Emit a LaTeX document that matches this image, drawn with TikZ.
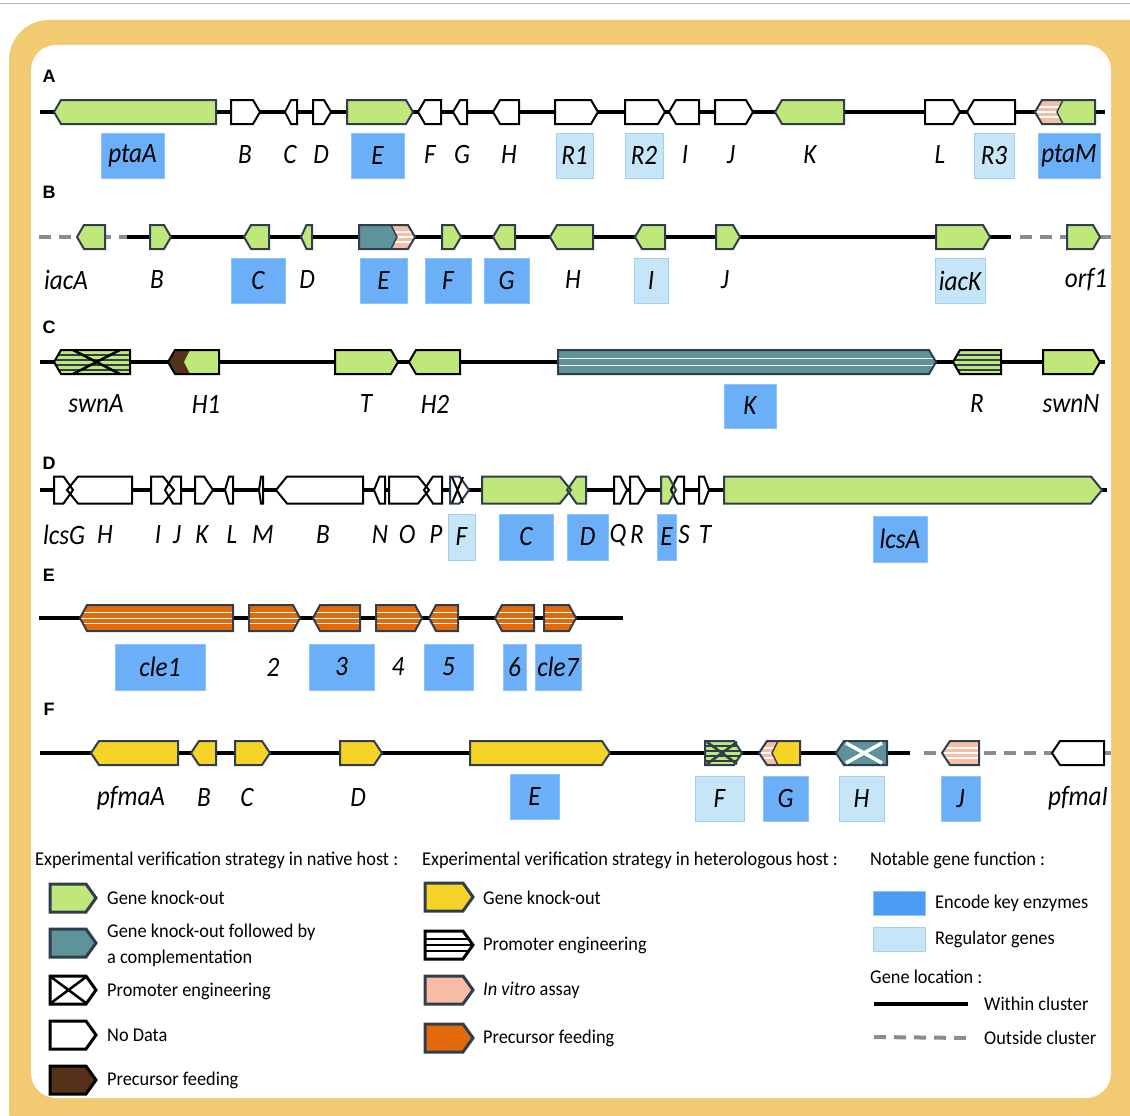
\documentclass[tikz,border=0pt]{standalone}
\usepackage{fontspec}
\setmainfont{Carlito}
\newfontfamily\genefont{Carlito}[FakeStretch=0.9]
\newfontfamily\legfont{Carlito}[FakeStretch=0.94]
\newfontfamily\panelfont{Liberation Sans}
\definecolor{kogreen}{HTML}{C0E77A}
\definecolor{koyellow}{HTML}{F6D327}
\definecolor{feedorange}{HTML}{E4690A}
\definecolor{compteal}{HTML}{5E9399}
\definecolor{feedbrown}{HTML}{55311A}
\definecolor{vitro}{HTML}{F7BEA5}
\definecolor{slate}{HTML}{2E3E4F}
\definecolor{keyblue}{HTML}{6BAFF9}
\definecolor{keyedge}{HTML}{8EC2F8}
\definecolor{keydark}{HTML}{4A9CF5}
\definecolor{regblue}{HTML}{C6E6F8}
\definecolor{regedge}{HTML}{9FD0F5}
\definecolor{framecol}{HTML}{F1CA72}
\definecolor{outgray}{HTML}{8C8C8C}
\def\gh{12}\def\tp{7}
\newcommand\genr[4][]{\path[#1] (#2,#4-\gh) -- ({#3-min(\tp,(#3-#2)/2)},#4-\gh) -- (#3,#4) -- ({#3-min(\tp,(#3-#2)/2)},#4+\gh) -- (#2,#4+\gh) -- cycle;}
\newcommand\genl[4][]{\path[#1] (#3,#4-\gh) -- ({#2+min(\tp,(#3-#2)/2)},#4-\gh) -- (#2,#4) -- ({#2+min(\tp,(#3-#2)/2)},#4+\gh) -- (#3,#4+\gh) -- cycle;}
\tikzset{
  stripes/.style n args={3}{path picture={\foreach \o in {#3} \draw[#1,line width=#2] ([yshift=\o pt]path picture bounding box.west) -- ([yshift=\o pt]path picture bounding box.east);}},
  backbone/.style={line width=4,black},
  outside/.style={line width=4,outgray,dash pattern=on 12 off 8},
  ko/.style={fill=kogreen,draw=slate,line width=2},
  kob/.style={fill=kogreen,draw=black,line width=2},
  hko/.style={fill=koyellow,draw=slate,line width=2},
  nodata/.style={fill=white,draw=black,line width=2},
  feed/.style={fill=feedorange,draw=slate,line width=2,stripes={white}{1}{-5.5,0,5.5}},
  lbl/.style={font=\genefont\itshape\fontsize{28}{28}\selectfont,inner sep=0},
  keybox/.style={lbl,fill=keyblue,draw=keyedge,line width=1,minimum height=45},
  regbox/.style={lbl,fill=regblue,draw=regedge,line width=1,minimum height=45},
  panel/.style={font=\panelfont\bfseries\fontsize{18}{18}\selectfont,inner sep=0},
  legtxt/.style={font=\legfont\fontsize{19.5}{19.5}\selectfont,anchor=west,inner sep=0}
}
\begin{document}
\begin{tikzpicture}[x=1pt,y=-1pt]
\useasboundingbox (0,0) rectangle (1130,1116);
\clip (0,0) rectangle (1130,1116);
\draw[gray!60,line width=1] (0,4) -- (1130,4);
\fill[framecol,rounded corners=40] (9,20) rectangle (1170,1150);
\fill[white,rounded corners=25] (31,45) rectangle (1111,1098);

% A
\node[panel] (pA) at (49,76) {A};
\draw[backbone] (40,112) -- (1105,112);
\genl[ko]{54}{216}{112}
\genr[nodata]{231}{260}{112}
\genl[nodata]{285}{297}{112}
\genr[nodata]{313}{331}{112}
\genr[ko]{347}{413}{112}
\genl[nodata]{418}{441}{112}
\genl[nodata]{453}{467}{112}
\genl[nodata]{493}{519}{112}
\genr[nodata]{555}{598}{112}
\genr[nodata]{625}{665}{112}
\genl[nodata]{669}{699}{112}
\genr[nodata]{715}{753}{112}
\genl[ko]{775}{844}{112}
\genr[nodata]{925}{960}{112}
\genl[nodata]{967}{1015}{112}
\genl[fill=vitro,stripes={white}{1.2}{-5,0,5}]{1035}{1095}{112}
\fill[kogreen] (1095,100) -- (1063,100) -- (1057,112) -- (1063,124) -- (1095,124) -- cycle;
\draw[slate,line width=1.5] (1063,100) -- (1057,112) -- (1063,124);
\genl[draw=slate,line width=2]{1035}{1095}{112}
\node[keybox,minimum width=63] (a-ptaA) at (132.5,155.5) {ptaA};
\node[keybox,minimum width=53] (a-E) at (377.5,155.5) {E};
\node[regbox,minimum width=37] (a-R1) at (574.5,155.5) {R1};
\node[regbox,minimum width=38] (a-R2) at (644,155.5) {R2};
\node[regbox,minimum width=40] (a-R3) at (994,155.5) {R3};
\node[keybox,minimum width=62] (a-ptaM) at (1069,155.5) {ptaM};
\foreach \x/\t in {245/B,290/C,321/D,430/F,462/G,509/H,685/I,731/J,810/K,940/L}
  \node[lbl] (a-\t) at (\x,155) {\t};

% B
\node[panel] (pB) at (49,192) {B};
\draw[outside] (39,237) -- (127,237);
\draw[backbone] (127,237) -- (1011,237);
\draw[outside] (1020,237) -- (1111,237);
\genl[ko]{77}{105}{237}
\genr[ko]{150}{171}{237}
\genl[ko]{244}{269}{237}
\genl[ko]{301}{312}{237}
\genr[fill=vitro,stripes={white}{1.2}{-5,0,5}]{359}{415}{237}
\fill[compteal] (359,225) -- (391,225) -- (397,237) -- (391,249) -- (359,249) -- cycle;
\draw[slate,line width=1.5] (391,225) -- (397,237) -- (391,249);
\genr[draw=slate,line width=2]{359}{415}{237}
\genr[ko]{442}{461}{237}
\genl[ko]{493}{515}{237}
\genl[ko]{550}{593}{237}
\genl[ko]{635}{665}{237}
\genr[ko]{716}{740}{237}
\genr[ko]{936}{990}{237}
\genr[ko]{1067}{1100}{237}
\node[keybox,minimum width=54] (b-C) at (258,281) {C};
\node[keybox,minimum width=47] (b-E) at (383.5,281) {E};
\node[keybox,minimum width=46] (b-F) at (448,281) {F};
\node[keybox,minimum width=45] (b-G) at (506.5,281) {G};
\node[regbox,minimum width=34] (b-I) at (651,281) {I};
\node[regbox,minimum width=50] (b-iacK) at (960,281) {iacK};
\foreach \x/\t in {66/iacA,157/B,307/D,573/H,725/J,1086/orf1}
  \node[lbl] (b-\t) at (\x,280) {\t};

% C
\node[panel] (pC) at (49,327) {C};
\draw[backbone] (40,362) -- (1105,362);
\genl[kob,stripes={slate}{2}{-7.5,-2.5,2.5,7.5}]{54}{130}{362}
\draw[black,line width=2.5] (73,350) -- (120,374) (73,374) -- (120,350);
\genl[fill=feedbrown]{168}{219}{362}
\fill[kogreen] (219,350) -- (190,350) -- (184,362) -- (190,374) -- (219,374) -- cycle;
\genl[draw=black,line width=2]{168}{219}{362}
\genr[kob]{335}{398}{362}
\genl[kob]{409}{460}{362}
\genr[fill=compteal,draw=slate,line width=2,stripes={white}{1.5}{-3.5,3.5}]{558}{936}{362}
\genl[kob,stripes={slate}{2}{-7.5,-2.5,2.5,7.5}]{953}{1001}{362}
\genr[kob]{1043}{1100}{362}
\node[keybox,minimum width=52,minimum height=44] (c-K) at (750,406) {K};
\foreach \x/\t in {96/swnA,206/H1,366/T,435/H2,977/R,1071/swnN}
  \node[lbl] (c-\t) at (\x,404) {\t};

% D
\node[panel] (pD) at (49,463) {D};
\draw[backbone] (40,490) -- (1107,490);
\def\gh{13.5}\def\tp{11}
\foreach \a/\b in {54/73,151/174,195/213,389/429,614/627,630/646,699/709}
  \genr[fill=white]{\a}{\b}{490};
\foreach \a/\b in {67/132,165/181,225/233,259/263,276/363,374/385,424/442,671/684}
  \genl[fill=white]{\a}{\b}{490};
\genr[fill=kogreen]{482}{571}{490}
\genl[fill=kogreen]{567}{586}{490}
\genr[fill=kogreen]{661}{676}{490}
\genr[fill=kogreen]{724}{1102}{490}
\foreach \a/\b in {54/73,151/174,195/213,389/429,614/627,630/646,699/709}
  \genr[draw=black,line width=2]{\a}{\b}{490};
\foreach \a/\b in {67/132,165/181,225/233,259/263,276/363,374/385,424/442,671/684}
  \genl[draw=black,line width=2]{\a}{\b}{490};
\genr[draw=slate,line width=2]{482}{571}{490}
\genl[draw=slate,line width=2]{567}{586}{490}
\genr[draw=slate,line width=2]{661}{676}{490}
\genr[draw=slate,line width=2]{724}{1102}{490}
\genr[fill=white,draw=slate,line width=2]{450}{469}{490}
\draw[black,line width=2] (452,477) -- (463,503) (452,503) -- (463,477);
\node[regbox,minimum width=27,minimum height=46] (d-F) at (461.5,537) {F};
\node[keybox,minimum width=54,minimum height=46] (d-C) at (526,537) {C};
\node[keybox,minimum width=41,minimum height=46] (d-D) at (587.5,537) {D};
\node[keybox,minimum width=19,minimum height=46] (d-E) at (666.5,537) {E};
\node[keybox,minimum width=54,minimum height=46] (d-lcsA) at (900,539) {lcsA};
\foreach \x/\t in {64/lcsG,105/H,158/I,177/J,202/K,232/L,263/M,323/B,380/N,407/O,436/P,618/Q,637/R,684/S,705/T}
  \node[lbl] (d-\t) at (\x,535) {\t};

% E
\node[panel] (pE) at (49,575) {E};
\draw[backbone] (39,618) -- (623,618);
\def\gh{13}\def\tp{7}
\genl[feed]{80}{233}{618}
\genr[feed]{249}{300}{618}
\genl[feed]{313}{360}{618}
\genr[feed]{376}{422}{618}
\genl[feed]{429}{458}{618}
\genl[feed]{495}{534}{618}
\genr[feed]{544}{576}{618}
\node[keybox,minimum width=90,minimum height=46] (e-cle1) at (160,667) {cle1};
\node[keybox,minimum width=65,minimum height=46] (e-3) at (341.5,667) {3};
\node[keybox,minimum width=49,minimum height=46] (e-5) at (448.5,667) {5};
\node[keybox,minimum width=23,minimum height=46] (e-6) at (514.5,667) {6};
\node[keybox,minimum width=46,minimum height=46] (e-cle7) at (558,667) {cle7};
\node[lbl] (e-2) at (273,667) {2};
\node[lbl] (e-4) at (398,667) {4};

% F
\node[panel] (pF) at (49,709) {F};
\draw[backbone] (40,753) -- (910,753);
\draw[outside] (924,753) -- (1111,753);
\def\gh{12}\def\tp{8}
\genl[hko]{91}{178}{753}
\genl[hko]{191}{216}{753}
\genr[hko]{235}{270}{753}
\genr[hko]{340}{382}{753}
\genr[hko]{470}{610}{753}
\genr[ko,stripes={slate}{2}{-7.5,-2.5,2.5,7.5}]{705}{742}{753}
\draw[slate,line width=2.5] (707,742) -- (737,764) (707,764) -- (737,742);
\genl[fill=vitro,stripes={white}{1.2}{-5,0,5}]{759}{800}{753}
\fill[koyellow] (800,741) -- (778,741) -- (772,753) -- (778,765) -- (800,765) -- cycle;
\draw[slate,line width=1.5] (778,741) -- (772,753) -- (778,765);
\genl[draw=slate,line width=2]{759}{800}{753}
\genl[fill=compteal,draw=slate,line width=2]{836}{887}{753}
\draw[white,line width=3.5] (846,743) -- (882,763) (846,763) -- (882,743);
\genl[fill=vitro,draw=slate,line width=2,stripes={white}{1.2}{-5,0,5}]{942}{979}{753}
\genl[nodata]{1052}{1104}{753}
\node[keybox,minimum width=49] (f-E) at (534.5,797) {E};
\node[regbox,minimum width=49] (f-F) at (719.5,798.5) {F};
\node[keybox,minimum width=45] (f-G) at (785.5,798.5) {G};
\node[regbox,minimum width=45] (f-H) at (861.5,798.5) {H};
\node[keybox,minimum width=39] (f-J) at (960.5,798.5) {J};
\foreach \x/\t in {131/pfmaA,204/B,247/C,358/D,1078/pfmaI}
  \node[lbl] (f-\t) at (\x,798) {\t};

% legend
\def\gh{14}\def\tp{10}
\node[legtxt] (hnat) at (35,860) {Experimental verification strategy in native host :};
\genr[fill=kogreen,draw=slate,line width=3]{50}{96}{898}
\genr[fill=compteal,draw=slate,line width=3]{50}{96}{943}
\genr[fill=white,draw=black,line width=3]{50}{96}{990}
\draw[black,line width=2.5] (51,977) -- (86,1003) (51,1003) -- (86,977);
\genr[fill=white,draw=black,line width=3]{50}{96}{1035}
\genr[fill=feedbrown,draw=black,line width=3]{50}{96}{1080}
\node[legtxt] (n1) at (107,898) {Gene knock-out};
\node[legtxt] (n2) at (107,932) {Gene knock-out followed by};
\node[legtxt] (n2b) at (107,958) {a complementation};
\node[legtxt] (n3) at (107,991) {Promoter engineering};
\node[legtxt] (n4) at (107,1035) {No Data};
\node[legtxt] (n5) at (107,1080) {Precursor feeding};
\node[legtxt] (hhet) at (422,860) {Experimental verification strategy in heterologous host :};
\genr[fill=koyellow,draw=slate,line width=3]{425}{473}{897}
\genr[fill=white,draw=black,line width=3,stripes={black}{1.5}{-6,0,6}]{425}{473}{945}
\genr[fill=vitro,draw=slate,line width=3]{425}{473}{990}
\genr[fill=feedorange,draw=slate,line width=3]{425}{473}{1038}
\node[legtxt] (h1) at (483,898) {Gene knock-out};
\node[legtxt] (h2) at (483,945) {Promoter engineering};
\node[legtxt] (h3) at (483,990) {\textit{In vitro} assay};
\node[legtxt] (h4) at (483,1038) {Precursor feeding};
\node[legtxt] (hfun) at (870,860) {Notable gene function :};
\node[fill=keydark,draw=keyedge,line width=1,minimum width=52,minimum height=24,inner sep=0] (kkey) at (899,903) {};
\node[fill=regblue,draw=regedge,line width=1,minimum width=52,minimum height=24,inner sep=0] (kreg) at (899,939) {};
\node[legtxt] (t1) at (935,903) {Encode key enzymes};
\node[legtxt] (t2) at (935,939) {Regulator genes};
\node[legtxt] (hloc) at (870,977) {Gene location :};
\node[legtxt] (t3) at (984,1004) {Within cluster};
\node[legtxt] (t4) at (984,1038) {Outside cluster};
\coordinate (w1) at (874,1004);
\coordinate (o1) at (874,1037);
\draw[backbone] (w1) -- (t3.west -| 968,0);
\draw[outside] (o1) -- (t4.west -| 968,0);
\end{tikzpicture}
\end{document}
